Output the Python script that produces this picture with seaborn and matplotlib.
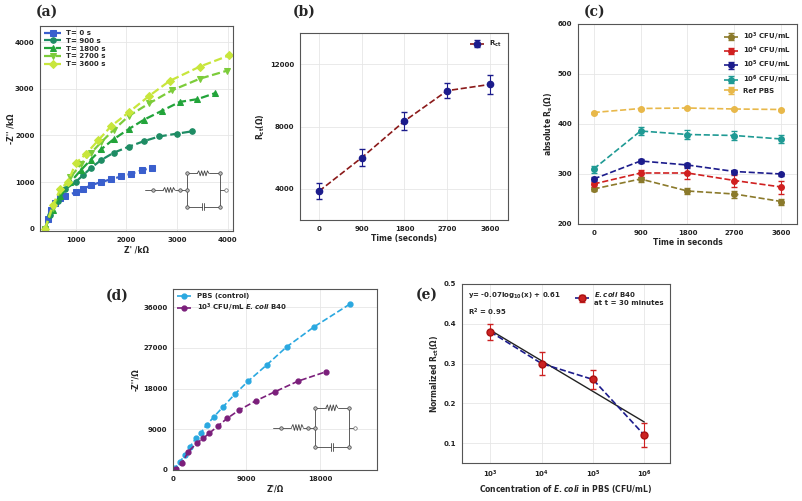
import matplotlib
matplotlib.use("Agg")
import matplotlib.pyplot as plt
import numpy as np
import pandas as pd
import seaborn as sns

sns.set_theme(style="whitegrid")
plt.rcParams["font.family"] = ["DejaVu Sans"]
plt.rcParams["font.weight"] = "bold"
plt.rcParams["axes.labelweight"] = "bold"

# ---- panel (a): Nyquist over time ----
a_labels = ["T= 0 s", "T= 900 s", "T= 1800 s", "T= 2700 s", "T= 3600 s"]
a_zre = [
    [400, 450, 520, 600, 700, 800, 1000, 1150, 1300, 1500, 1700, 1900, 2100, 2300, 2500],
    [400, 500, 650, 800, 1000, 1150, 1300, 1500, 1750, 2050, 2350, 2650, 3000, 3300],
    [400, 550, 700, 900, 1100, 1300, 1500, 1750, 2050, 2350, 2700, 3050, 3400, 3750],
    [400, 550, 700, 900, 1100, 1300, 1500, 1750, 2050, 2450, 2900, 3450, 3980],
    [400, 550, 700, 850, 1000, 1200, 1450, 1700, 2050, 2450, 2850, 3450, 4030],
]
a_zim = [
    [0, 200, 400, 550, 650, 700, 780, 850, 930, 1000, 1060, 1120, 1180, 1250, 1310],
    [0, 300, 600, 850, 1000, 1150, 1300, 1470, 1630, 1760, 1880, 1980, 2040, 2090],
    [0, 400, 700, 1000, 1250, 1480, 1700, 1920, 2140, 2340, 2530, 2720, 2780, 2910],
    [0, 450, 800, 1100, 1380, 1620, 1850, 2120, 2420, 2690, 2970, 3220, 3390],
    [0, 500, 850, 1000, 1400, 1600, 1900, 2200, 2500, 2850, 3170, 3480, 3720],
]
a_colors = ["#3a5fcd", "#1e8c64", "#22a43a", "#7ccc3a", "#c8e63c"]
a_markers = ["s", "o", "^", "v", "D"]

# ---- panel (b): Rct vs time ----
b_time = [0, 900, 1800, 2700, 3600]
b_rct = [3850, 6000, 8350, 10300, 10700]
b_err = [500, 550, 550, 500, 600]

# ---- panel (c): absolute Rs ----
c_time = [0, 900, 1800, 2700, 3600]
c_labels = ["$\\mathbf{10^3}$ CFU/mL", "$\\mathbf{10^4}$ CFU/mL", "$\\mathbf{10^5}$ CFU/mL",
            "$\\mathbf{10^6}$ CFU/mL", "Ref PBS"]
c_vals = [
    [270, 290, 266, 260, 245],
    [280, 302, 302, 287, 274],
    [290, 326, 318, 305, 300],
    [310, 386, 379, 377, 370],
    [423, 431, 432, 430, 429],
]
c_errs = [
    [4, 5, 6, 7, 6],
    [5, 7, 12, 12, 13],
    [4, 4, 5, 4, 3],
    [7, 8, 9, 9, 8],
    [2, 2, 2, 2, 2],
]
c_colors = ["#8b7a2b", "#d02020", "#1c1c8c", "#1f9a94", "#e8b84a"]

# ---- panel (d): Nyquist PBS vs E. coli ----
d_pbs_re = [0, 250, 860, 1470, 2080, 2820, 3430, 4120, 5020, 6160, 7600, 9220,
            11470, 13920, 17300, 21670]
d_pbs_im = [0, 440, 1840, 3310, 5150, 7000, 8240, 9940, 11770, 14000, 16800, 19650,
            23190, 27200, 31650, 36660]
d_ec_re = [0, 370, 1060, 1880, 2890, 3700, 4430, 5540, 6640, 8110, 10160, 12490,
           15340, 18730]
d_ec_im = [0, 150, 1470, 4050, 5890, 7000, 8100, 9780, 11410, 13250, 15300, 17290,
           19650, 21700]

# ---- panel (e): normalized Rct vs concentration ----
e_conc = [1e3, 1e4, 1e5, 1e6]
e_val = [0.38, 0.30, 0.26, 0.12]
e_err = [0.02, 0.03, 0.025, 0.03]

fig = plt.figure(figsize=(8.02, 5.01), dpi=100)
W, H = 802, 501


def ax_at(l, t, r, b):
    return fig.add_axes([l / W, 1 - b / H, (r - l) / W, (b - t) / H])


def style(ax):
    ax.tick_params(labelsize=5, length=2, pad=2, colors="#222222")
    for s in ax.spines.values():
        s.set_color("#555555")
        s.set_linewidth(0.8)
    ax.grid(color="#e6e6e6", linewidth=0.6)
    for lab in ax.get_xticklabels() + ax.get_yticklabels():
        lab.set_fontweight("bold")


def panel_label(x, y, txt):
    fig.text(x / W, 1 - y / H, txt, fontsize=10, fontweight="bold",
             family="DejaVu Serif", va="center")


def draw_circuit(ax):
    ax.set_xlim(0, 10)
    ax.set_ylim(0, 6)
    ax.axis("off")
    k = dict(color="#444444", lw=0.6)
    ax.plot([0, 1], [3, 3], **k)
    zx = np.linspace(2.2, 3.6, 9)
    zy = 3 + np.array([0, .3, -.3, .3, -.3, .3, -.3, .3, 0])
    ax.plot([1, 2.2], [3, 3], **k)
    ax.plot(zx, zy, **k)
    ax.plot([3.6, 5], [3, 3], **k)
    ax.plot([5, 5], [1, 5], **k)
    ax.plot([9, 9], [1, 5], **k)
    tx = np.linspace(6.3, 7.7, 9)
    ax.plot([5, 6.3], [5, 5], **k)
    ax.plot(tx, 5 + (zy - 3), **k)
    ax.plot([7.7, 9], [5, 5], **k)
    ax.plot([5, 6.9], [1, 1], **k)
    ax.plot([6.9, 6.9], [0.6, 1.4], **k)
    ax.plot([7.1, 7.1], [0.6, 1.4], **k)
    ax.plot([7.1, 9], [1, 1], **k)
    ax.plot([9, 9.8], [3, 3], **k)
    for (x, y) in [(1, 3), (5, 3), (5, 5), (5, 1), (9, 5), (9, 1), (4.2, 3)]:
        ax.plot(x, y, "o", ms=2.5, mfc="#bbbbbb", mec="#444444", mew=0.5)
    ax.plot(9.8, 3, "o", ms=2.5, mfc="white", mec="#666666", mew=0.5)


# (a)
ax = ax_at(40, 26, 233, 231)
for i in range(5):
    df = pd.DataFrame({"x": a_zre[i], "y": a_zim[i]})
    sns.lineplot(data=df, x="x", y="y", ax=ax, color=a_colors[i], lw=1.6, ls="--",
                 marker=a_markers[i], ms=4, mec=a_colors[i], label=a_labels[i], sort=False)
ax.set_xlim(300, 4100)
ax.set_ylim(-50, 4350)
ax.set_xticks([1000, 2000, 3000, 4000])
ax.set_yticks([0, 1000, 2000, 3000, 4000])
ax.set_xlabel("Z' /kΩ", fontsize=5.5, labelpad=2)
ax.set_ylabel("-Z'' /kΩ", fontsize=5.5)
ax.yaxis.set_label_coords(-0.125, 0.5)
ax.legend(loc="upper left", frameon=False, handlelength=2.4,
          borderaxespad=0.2, labelspacing=0.25, prop={"weight": "bold", "size": 5})
style(ax)
panel_label(36, 12, "(a)")
draw_circuit(ax_at(145, 165, 228, 215))

# (b)
ax = ax_at(300, 33, 508, 220)
ax.errorbar(b_time, b_rct, yerr=b_err, color="#8b1a1a", ls="--", lw=1.2, marker="o",
            ms=4.5, mfc="#1c1c8c", mec="#1c1c8c", ecolor="#1c1c8c", capsize=2,
            elinewidth=0.8, label="$\\mathbf{R_{ct}}$")
ax.set_xlim(-400, 3980)
ax.set_ylim(2000, 14000)
ax.set_xticks(b_time)
ax.set_yticks([4000, 8000, 12000])
ax.set_xlabel("Time (seconds)", fontsize=5.5, labelpad=2)
ax.set_ylabel("$\\mathbf{R_{ct}(\\Omega)}$", fontsize=5.5, labelpad=2)
ax.legend(loc="upper right", frameon=False, prop={"weight": "bold", "size": 5},
          handlelength=2)
style(ax)
panel_label(293, 12, "(b)")

# (c)
ax = ax_at(578, 24, 797, 224)
for i in range(5):
    ax.errorbar(c_time, c_vals[i], yerr=c_errs[i], color=c_colors[i], ls="--", lw=1.2,
                marker="o", ms=4, capsize=2, elinewidth=0.8, label=c_labels[i])
ax.set_xlim(-300, 3900)
ax.set_ylim(200, 600)
ax.set_xticks(c_time)
ax.set_yticks([200, 300, 400, 500, 600])
ax.set_xlabel("Time in seconds", fontsize=5.5, labelpad=2)
ax.set_ylabel("absolute $\\mathbf{R_s(\\Omega)}$", fontsize=5.5, labelpad=2)
ax.legend(loc="upper right", frameon=False, prop={"weight": "bold", "size": 5},
          handlelength=2, labelspacing=0.3)
style(ax)
panel_label(584, 12, "(c)")

# (d)
ax = ax_at(173, 289, 377, 470)
ax.plot(d_pbs_re, d_pbs_im, color="#2aa8e0", ls="--", lw=1.2, marker="o", ms=3.5,
        label="PBS (control)")
ax.plot(d_ec_re, d_ec_im, color="#7b1f7b", ls="--", lw=1.2, marker="o", ms=3.5,
        label="$\\mathbf{10^3}$ CFU/mL $\\mathbf{\\it{E.coli}}$ B40")
ax.set_xlim(0, 25000)
ax.set_ylim(0, 40000)
ax.set_xticks([0, 9000, 18000])
ax.set_yticks([0, 9000, 18000, 27000, 36000])
ax.set_xlabel("Z'/Ω", fontsize=5.5, labelpad=2)
ax.set_ylabel("-Z''/Ω", fontsize=5.5, labelpad=2)
ax.legend(loc="upper left", frameon=False, prop={"weight": "bold", "size": 5},
          handlelength=2, borderaxespad=0.2, labelspacing=0.3)
style(ax)
panel_label(106, 296, "(d)")
draw_circuit(ax_at(273, 398, 357, 457))

# (e)
ax = ax_at(462, 284, 670, 463)
fx = np.array([1e3, 1e6])
ax.plot(fx, -0.077 * np.log10(fx) + 0.615, color="#222222", lw=1)
ax.errorbar(e_conc, e_val, yerr=e_err, color="#1c1c8c", ls="--", lw=1.2, marker="o",
            ms=5, mfc="#cc2222", mec="#aa1111", ecolor="#cc2222", capsize=2,
            elinewidth=0.8, label="$\\mathbf{\\it{E.coli}}$ B40\nat t = 30 minutes")
ax.set_xscale("log")
ax.set_xlim(10 ** 2.45, 10 ** 6.5)
ax.set_ylim(0.05, 0.5)
ax.set_xticks(e_conc)
ax.set_yticks([0.1, 0.2, 0.3, 0.4, 0.5])
ax.set_xlabel("Concentration of $\\mathbf{\\it{E.coli}}$ in PBS (CFU/mL)", fontsize=5.5,
              labelpad=2)
ax.set_ylabel("Normalized $\\mathbf{R_{ct}(\\Omega)}$", fontsize=5.5, labelpad=2)
ax.legend(loc="upper right", frameon=False, prop={"weight": "bold", "size": 5},
          handlelength=2)
ax.text(0.03, 0.96, "y= -0.07log$_{10}$(x) + 0.61\nR$^2$ = 0.95", transform=ax.transAxes,
        fontsize=5, fontweight="bold", va="top", linespacing=1.6)
style(ax)
panel_label(416, 295, "(e)")

fig.savefig("out.png", dpi=100)
